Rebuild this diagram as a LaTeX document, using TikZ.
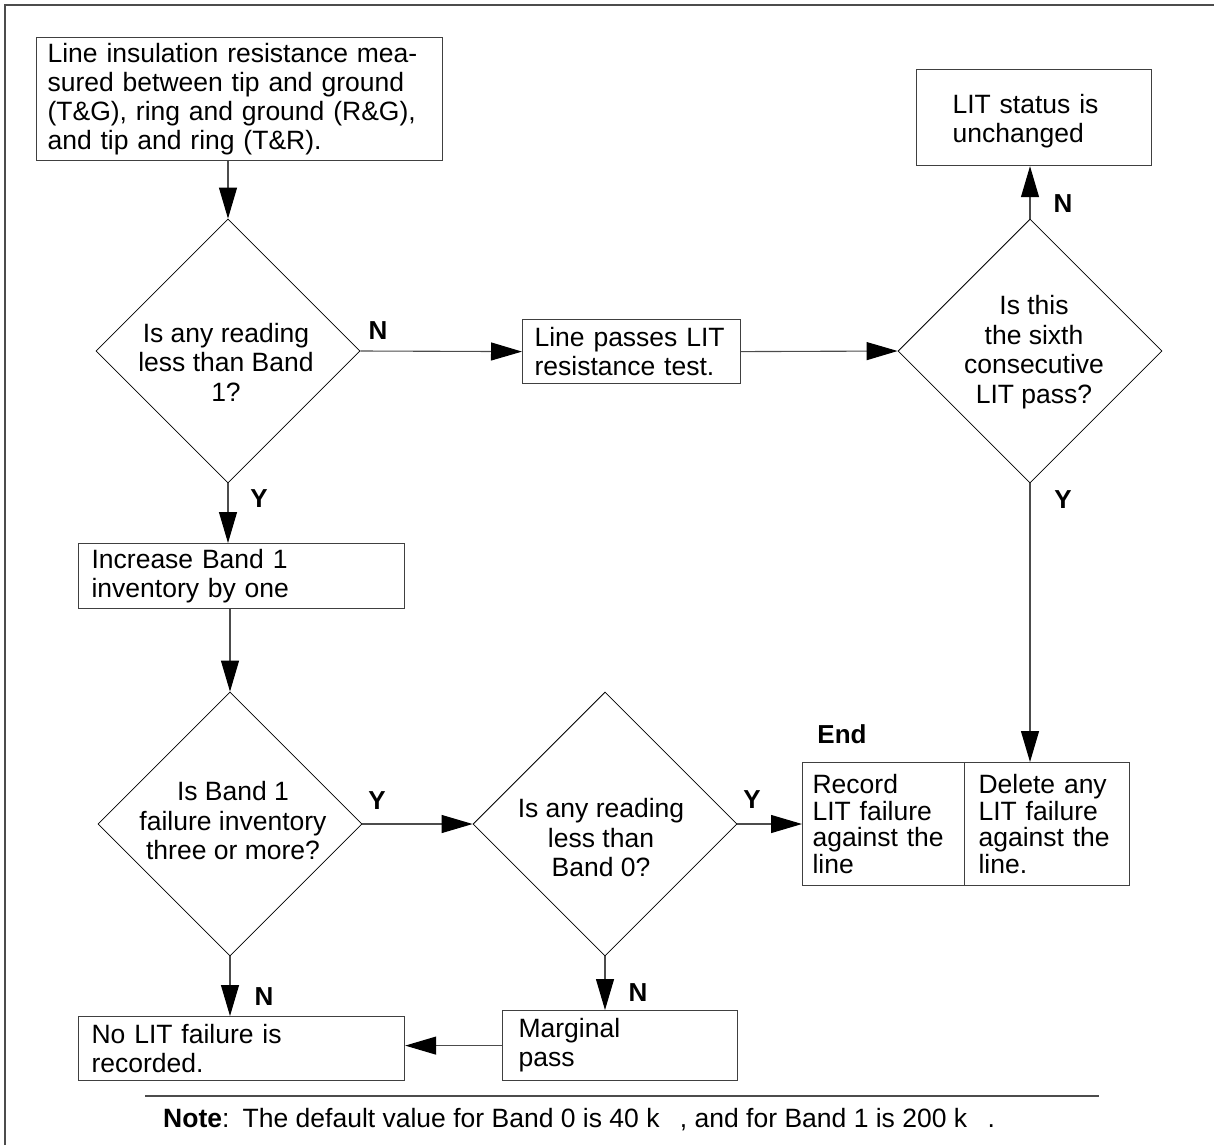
\documentclass[tikz,border=0pt]{standalone}
\usepackage{fontspec}
\setmainfont{Liberation Sans}
\usetikzlibrary{shapes.geometric,arrows.meta}
\begin{document}
\begin{tikzpicture}[x=1pt,y=-1pt,
  every node/.style={font=\fontsize{26.5}{29}\selectfont},
  box/.style={draw=black!75,line width=1.2pt,rectangle,align=left,inner ysep=0pt,anchor=north west},
  dec/.style={draw=black,line width=0.8pt,diamond,minimum width=264pt,minimum height=264pt,inner sep=0pt},
  dtext/.style={align=center,inner sep=0pt,font=\fontsize{26.5}{29.5}\selectfont},
  lab/.style={inner sep=0pt,font=\fontsize{26}{29}\selectfont\bfseries},
  conn/.style={draw=black!70,line width=1.1pt,-{Triangle[length=31pt,width=18pt,color=black]}},
  frameline/.style={draw=black!70,line width=1.6pt}
]
\useasboundingbox (0,0) rectangle (1214,1145);
% frame
\draw[frameline] (5,1145) -- (5,5) -- (1214,5);
% boxes
\node[box,text width=384pt,inner xsep=11pt,minimum height=123pt] (b1) at (36,37)
  {Line insulation resistance mea-\\sured between tip and ground\\(T\&G), ring and ground (R\&G),\\and tip and ring (T\&R).};
\node[box,text width=194pt,inner xsep=12pt,minimum height=64pt] (b2) at (522,319)
  {Line passes LIT\\resistance test.};
\node[box,text width=163pt,inner xsep=36pt,minimum height=96pt] (unch) at (916,69)
  {\rule{0pt}{26pt}LIT status is\\unchanged};
\node[box,text width=300pt,inner xsep=13pt,minimum height=65pt] (b3) at (78,543)
  {Increase Band 1\\inventory by one};
\node[box,text width=300pt,inner xsep=13pt,minimum height=64pt] (nolit) at (78,1016)
  {No LIT failure is\\recorded.};
\node[box,text width=203pt,inner xsep=16pt,minimum height=70pt] (marg) at (502,1010)
  {Marginal\\pass};
\node[box,text width=142pt,inner xsep=10pt,minimum height=123pt,font=\fontsize{26.5}{26.7}\selectfont] (endL) at (802,762)
  {Record\\LIT failure\\against the\\line};
\node[box,text width=137pt,inner xsep=14pt,minimum height=123pt,font=\fontsize{26.5}{26.7}\selectfont] (endR) at (964,762)
  {Delete any\\LIT failure\\against the\\line.};
% decisions
\node[dec] (d1) at (228,351) {};
\node[dec] (d2) at (1030,351) {};
\node[dec] (d3) at (230,824) {};
\node[dec] (d4) at (605,824) {};
\node[dtext] (t1) at (226,362) {Is any reading\\less than Band\\1?};
\node[dtext] (t2) at (1034,352) {Is this\\the sixth\\consecutive\\LIT pass?};
\node[dtext] (t3) at (233,821) {Is Band 1\\failure inventory\\three or more?};
\node[dtext] (t4) at (601,838) {Is any reading\\less than\\Band 0?};
% labels
\node[lab] (n1) at (378,331) {N};
\node[lab] (n2) at (1063,204) {N};
\node[lab] (y2) at (1063,500) {Y};
\node[lab] (y1) at (259,499) {Y};
\node[lab] (y3) at (377,801) {Y};
\node[lab] (y4) at (752,800) {Y};
\node[lab] (n3) at (264,997) {N};
\node[lab] (n4) at (638,993) {N};
\node[lab] (endlab) at (842,734) {End};
% connectors
\draw[conn] (d1.north |- b1.south) -- (d1.north);
\draw[conn] (d1.east) -- (b2.west);
\draw[conn] (b2.east) -- (d2.west);
\draw[conn] (d2.north) -- (d2.north |- unch.south);
\draw[conn] (d2.south) -- (d2.south |- endR.north);
\draw[conn] (d1.south) -- (d1.south |- b3.north);
\draw[conn] (d3.north |- b3.south) -- (d3.north);
\draw[conn] (d3.east) -- (d4.west);
\draw[conn] (d4.east) -- (d4.east -| endL.west);
\draw[conn] (d3.south) -- (d3.south |- nolit.north);
\draw[conn] (d4.south) -- (d4.south |- marg.north);
\draw[conn] (marg.west) -- (marg.west -| nolit.east);
% note
\draw[frameline] (145,1096) coordinate (nl1) -- (1099,1096) coordinate (nl2);
\node[anchor=west,inner sep=0pt] (note) at (163,1120)
  {\textbf{Note}:\hspace{0.5em}The default value for Band 0 is 40 k\hspace{0.77em}, and for Band 1 is 200 k\hspace{0.77em}.};
\end{tikzpicture}
\end{document}
